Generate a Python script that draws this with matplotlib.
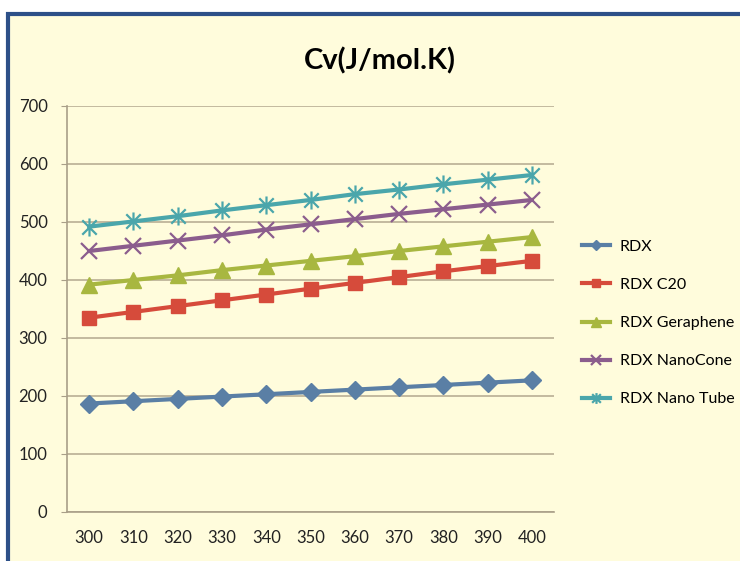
import matplotlib
matplotlib.use('Agg')
import matplotlib.pyplot as plt
from matplotlib.patches import Rectangle
from matplotlib.path import Path
import numpy as np

temps = [300, 310, 320, 330, 340, 350, 360, 370, 380, 390, 400]

rdx = [187, 191, 195, 199, 203, 207, 211, 215, 219, 223, 227]
rdx_c20 = [335, 345, 355, 365, 375, 385, 395, 405, 415, 424, 433]
rdx_graphene = [392, 400, 408, 417, 425, 433, 441, 450, 458, 466, 474]
rdx_cone = [450, 459, 468, 477, 487, 496, 505, 514, 522, 530, 538]
rdx_tube = [492, 501, 510, 520, 529, 538, 548, 556, 565, 573, 581]

names = ['RDX', 'RDX C20', 'RDX Geraphene', 'RDX NanoCone', 'RDX Nano Tube']
yticks = [0, 100, 200, 300, 400, 500, 600, 700]

plt.rcParams['font.family'] = ['Lato', 'DejaVu Sans']

# asterisk marker: vertical bar plus an x
star = Path([(0, -1), (0, 1), (-0.8, -0.8), (0.8, 0.8), (-0.8, 0.8), (0.8, -0.8)],
            [Path.MOVETO, Path.LINETO, Path.MOVETO, Path.LINETO, Path.MOVETO, Path.LINETO])

bg = '#FFFCDC'
fig = plt.figure(figsize=(7.4, 5.61), dpi=100, facecolor='white')
fig.patches.append(Rectangle((8 / 740, -0.05), 1.05, 1 - 14 / 561 + 0.05,
                             transform=fig.transFigure, facecolor=bg,
                             edgecolor='#2D5088', linewidth=3, zorder=-1))

ax = fig.add_axes([67 / 740, 1 - 512 / 561, (554 - 67) / 740, (512 - 106) / 561])
ax.set_facecolor(bg)

x = np.arange(len(temps))
styles = [
    (rdx, '#5A7FA5', 'D', 9, None),
    (rdx_c20, '#D64B3B', 's', 10, None),
    (rdx_graphene, '#A8B740', '^', 11, None),
    (rdx_cone, '#8B5D8D', 'x', 11, 1.6),
    (rdx_tube, '#4AA6AB', star, 13, 1.6),
]
for (vals, col, mk, ms, mew), name in zip(styles, names):
    kw = dict(markeredgewidth=mew) if mew else dict(markeredgecolor=col)
    ax.plot(x, vals, color=col, lw=3, marker=mk, markersize=ms,
            markerfacecolor=col, label=name, **kw)

ax.set_xlim(-0.5, len(temps) - 0.5)
ax.set_ylim(0, 700)
ax.set_xticks(x)
ax.set_xticklabels([str(t) for t in temps])
ax.set_yticks(yticks)
ax.grid(axis='y', color='#B9AF95', lw=1.2)
ax.set_axisbelow(True)
for s in ['top', 'right']:
    ax.spines[s].set_visible(False)
for s in ['left', 'bottom']:
    ax.spines[s].set_color('#A99F88')
    ax.spines[s].set_linewidth(1.2)
ax.tick_params(axis='x', length=0, pad=13, labelsize=12, colors='#222222')
ax.tick_params(axis='y', length=4, color='#A99F88', pad=10, labelsize=12, labelcolor='#222222')

fig.text(380 / 740, 1 - 61 / 561, 'Cv(J/mol.K)', ha='center', va='center',
         fontsize=21, fontweight='bold', color='black')

leg = fig.legend(loc='center left', bbox_to_anchor=(582 / 740, 1 - 323 / 561),
                 frameon=False, fontsize=11.5, handlelength=1.75, handletextpad=0.6,
                 labelspacing=1.5, markerscale=0.6, borderpad=0, borderaxespad=0)

fig.savefig('out.png', dpi=100, facecolor='white')
